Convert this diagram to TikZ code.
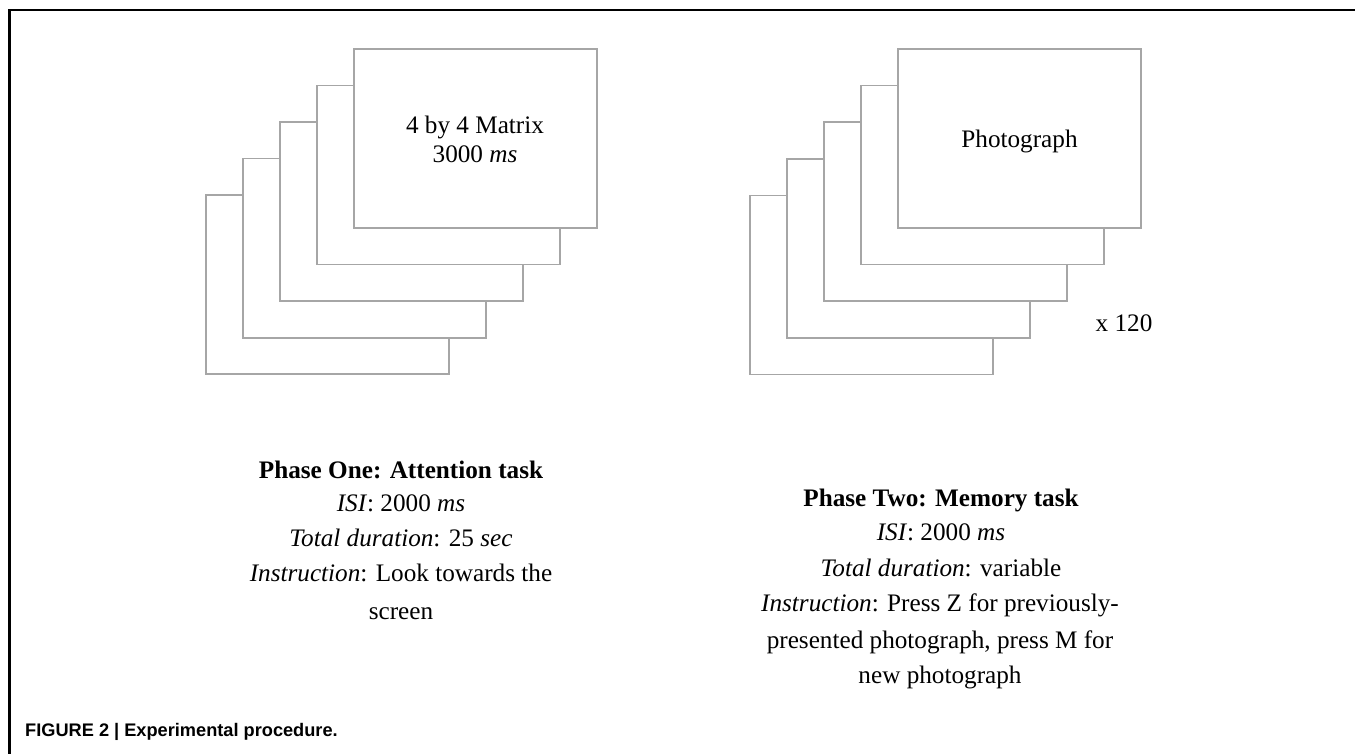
\documentclass[tikz,border=0pt]{standalone}
\usepackage{fontspec}
\setmainfont{Liberation Serif}
\newfontfamily\capfont{Liberation Sans}
\begin{document}
\begin{tikzpicture}[x=1pt,y=-1pt,
  card/.style={draw=black!35, line width=1.6pt, fill=white, minimum width=243pt, minimum height=179pt, inner sep=0pt},
  txt/.style={anchor=base, inner sep=0pt, font=\fontsize{25.2}{30}\selectfont},
  capt/.style={anchor=base west, inner sep=0pt, font=\capfont\bfseries\fontsize{18.2}{22}\selectfont},
  frame/.style={line width=2.4pt, black}]
\useasboundingbox (0,0) rectangle (1355,754);
% frame (top and left only)
\coordinate (ftr) at (1355,10);
\coordinate (ftl) at (9.5,10);
\coordinate (fbl) at (9.5,754);
\draw[frame] (ftr) -- (ftl) -- (fbl);
% left stack
\foreach \k in {4,3,2,1,0}{
  \node[card] (a\k) at ({475.3-36.9*\k},{138.7+36.5*\k}) {};
}
\node[txt] (a0t1) at (475,133.3) {4 by 4 Matrix};
\node[txt] (a0t2) at (475,162.3) {3000 \textit{ms}};
% right stack
\foreach \k in {4,3,2,1,0}{
  \node[card] (b\k) at ({1019.7-37.1*\k},{138.3+36.7*\k}) {};
}
\node[txt] (b0t) at (1019.5,147.3) {Photograph};
\node[txt] (rep) at (1124,331.7) {x 120};
% phase one text
\node[txt] (p1a) at (401,478) {\textbf{Phase One: Attention task}};
\node[txt] (p1b) at (401,511.7) {\textit{ISI}: 2000 \textit{ms}};
\node[txt] (p1c) at (401,546.7) {\textit{Total duration}: 25 \textit{sec}};
\node[txt] (p1d) at (401,581.7) {\textit{Instruction}: Look towards the};
\node[txt] (p1e) at (401,619.3) {screen};
% phase two text
\node[txt] (p2a) at (941,506.7) {\textbf{Phase Two: Memory task}};
\node[txt] (p2b) at (941,540.7) {\textit{ISI}: 2000 \textit{ms}};
\node[txt] (p2c) at (941,576.7) {\textit{Total duration}: variable};
\node[txt] (p2d) at (940,611.7) {\textit{Instruction}: Press Z for previously-};
\node[txt] (p2e) at (940,648) {presented photograph, press M for};
\node[txt] (p2f) at (940,683.5) {new photograph};
% caption
\node[capt] (cap) at (25,736.7) {FIGURE 2 | Experimental procedure.};
\end{tikzpicture}
\end{document}
